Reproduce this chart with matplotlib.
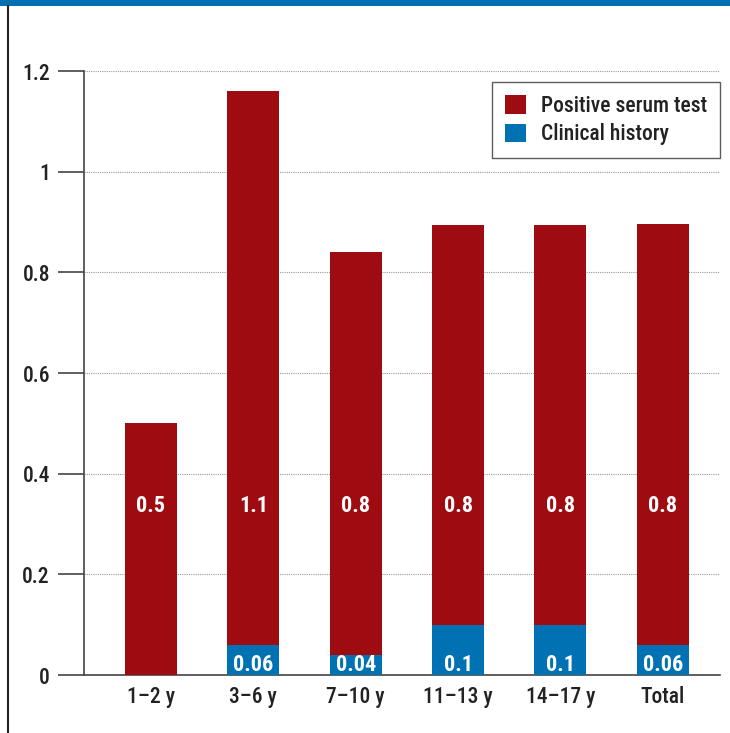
import matplotlib
matplotlib.use("Agg")
from matplotlib import pyplot as plt
from matplotlib.patches import Rectangle, Patch
from matplotlib.lines import Line2D
from matplotlib import font_manager

## dados

grupos = ['1–2 y', '3–6 y', '7–10 y', '11–13 y', '14–17 y', 'Total']
historia_clinica = [0.0, 0.06, 0.04, 0.1, 0.1, 0.06]
teste_serico = [0.5, 1.10, 0.80, 0.795, 0.795, 0.836]
y_ticks = [0, 0.2, 0.4, 0.6, 0.8, 1, 1.2]
y_tick_labels = ['0', '0.2', '0.4', '0.6', '0.8', '1', '1.2']

vermelho = '#9E0B11'
azul = '#0071B3'

# fonte estreita, se houver
nomes = set(f.name for f in font_manager.fontManager.ttflist)
fonte = 'Liberation Sans'
for candidata in ['Roboto Condensed', 'Liberation Sans Narrow', 'Open Sans Condensed', 'DejaVu Sans Condensed']:
    if candidata in nomes:
        fonte = candidata
        break
plt.rcParams['font.family'] = [fonte, 'DejaVu Sans']
plt.rcParams['font.stretch'] = 'condensed'
plt.rcParams['font.weight'] = 'medium'

fig = plt.figure(figsize=(7.3, 7.33), dpi=100)
ax = fig.add_axes([0.115, 0.079, 0.871, 0.824])

x = list(range(len(grupos)))
largura = 0.51
ax.bar(x, historia_clinica, largura, color=azul, zorder=3)
ax.bar(x, teste_serico, largura, bottom=historia_clinica, color=vermelho, zorder=3)

# rotulos dentro das barras
for i in x:
    ax.text(i, 0.336, '{:.1f}'.format(teste_serico[i]), ha='center', va='center',
            color='white', fontsize=16, fontweight='bold', zorder=4)
    if historia_clinica[i] > 0:
        ax.text(i, 0.021, '{:g}'.format(historia_clinica[i]), ha='center', va='center',
                color='white', fontsize=16, fontweight='bold', zorder=4)

ax.set_xlim(-0.654, 5.557)
ax.set_ylim(0, 1.2)
ax.set_yticks(y_ticks)
ax.set_yticklabels(y_tick_labels, fontsize=15.5, color='#222222')
ax.set_xticks(x)
ax.set_xticklabels(grupos, fontsize=15.5, color='#222222')

ax.tick_params(axis='y', direction='out', length=18.5, width=1.2, color='#444444', pad=6)
ax.tick_params(axis='x', length=0, pad=8)
ax.yaxis.grid(True, linestyle=(0, (1, 1)), color='#999999', linewidth=0.8, zorder=0)
ax.set_axisbelow(True)

for lado in ['top', 'right']:
    ax.spines[lado].set_visible(False)
ax.spines['left'].set_color('#444444')
ax.spines['left'].set_linewidth(1.2)
ax.spines['bottom'].set_color('#444444')
ax.spines['bottom'].set_linewidth(1.2)

legenda = [Patch(facecolor=vermelho, label='Positive serum test'),
           Patch(facecolor=azul, label='Clinical history')]
leg = ax.legend(handles=legenda, loc='upper right', bbox_to_anchor=(1.0, 0.982),
                borderaxespad=0, fontsize=15.5, frameon=True, fancybox=False,
                handlelength=0.95, handleheight=0.95, handletextpad=0.7,
                borderpad=0.6, labelspacing=0.3)
leg.get_frame().set_edgecolor('#333333')
leg.get_frame().set_linewidth(1.0)
for t in leg.get_texts():
    t.set_color('#222222')

# faixa azul no topo e borda esquerda
fig.patches.append(Rectangle((0, 1 - 6 / 733), 1, 6 / 733, transform=fig.transFigure,
                             facecolor='#0070B0', edgecolor='none'))
fig.lines.append(Line2D([8 / 730, 8 / 730], [0, 1 - 6 / 733], transform=fig.transFigure,
                       color='#222222', linewidth=1.5))

fig.savefig('out.png', dpi=100)
